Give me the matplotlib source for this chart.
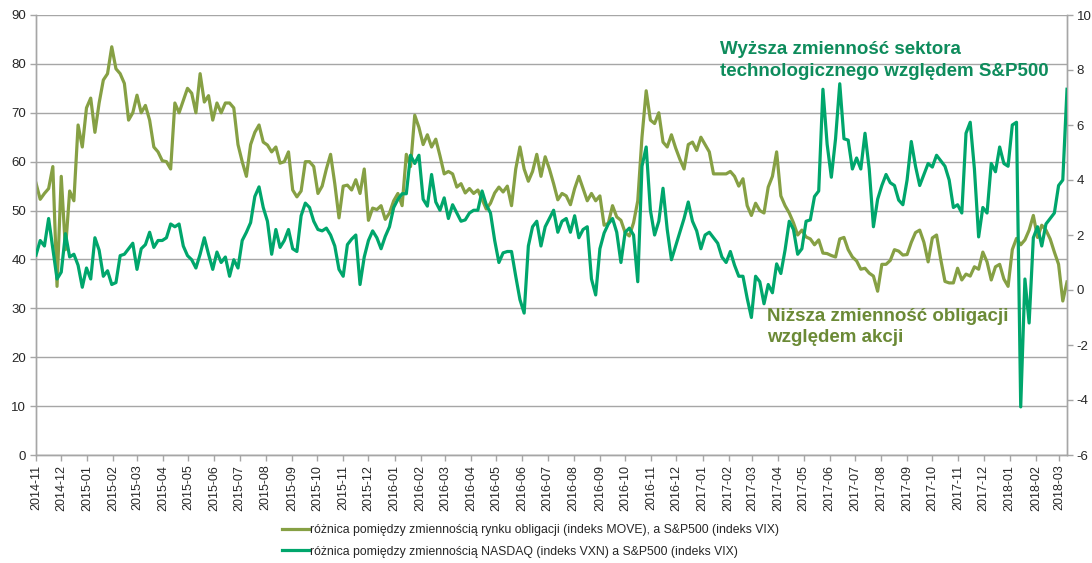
import matplotlib
matplotlib.use("Agg")
import matplotlib.pyplot as plt
import matplotlib.dates as mdates
import pandas as pd

plt.rcParams['font.family'] = ['Liberation Sans', 'DejaVu Sans']
plt.rcParams['axes.unicode_minus'] = False

# ---- data (5-day sampling, starting 2014-11-01) ----
start_date = "2014-11-01"
step = "5D"

move_vix = [
    55.6, 52.3, 53.5, 54.5, 59.0, 34.5, 57.0, 42.0, 54.0, 52.0,
    67.5, 63.0, 71.0, 73.0, 66.0, 72.0, 76.7, 78.0, 83.5, 79.0,
    78.0, 76.0, 68.5, 70.0, 73.6, 70.0, 71.5, 68.5, 63.0, 62.0,
    60.2, 60.0, 58.5, 72.0, 70.0, 72.5, 75.0, 74.0, 70.0, 78.0,
    72.2, 73.5, 68.5, 72.0, 70.0, 72.0, 72.0, 71.0, 63.5, 60.0,
    57.0, 63.5, 66.0, 67.5, 64.0, 63.4, 62.0, 63.0, 59.7, 60.0,
    62.0, 54.2, 52.8, 54.0, 60.0, 60.0, 59.0, 53.5, 55.0, 58.5,
    61.5, 55.5, 48.5, 55.0, 55.2, 54.2, 56.3, 53.5, 58.5, 48.0,
    50.5, 50.2, 51.0, 48.2, 49.5, 52.0, 53.5, 51.0, 61.5, 59.0,
    69.5, 67.0, 63.5, 65.5, 63.0, 64.6, 61.2, 57.5, 58.0, 57.5,
    54.8, 55.5, 53.6, 54.5, 53.5, 54.2, 52.3, 50.3, 51.5, 53.6,
    54.8, 53.8, 55.0, 51.0, 58.5, 63.0, 58.5, 56.0, 58.0, 61.5,
    57.0, 61.0, 58.5, 55.5, 52.2, 53.5, 53.0, 51.2, 54.5, 57.0,
    54.5, 52.0, 53.5, 52.0, 53.0, 47.0, 47.4, 51.0, 48.7, 48.0,
    45.5, 44.8, 47.5, 52.0, 65.0, 74.5, 68.5, 67.8, 70.0, 64.0,
    63.0, 65.5, 62.8, 60.5, 58.5, 63.5, 64.0, 62.3, 65.0, 63.5,
    62.0, 57.5, 57.5, 57.5, 57.5, 58.0, 57.0, 55.0, 56.5, 51.0,
    49.0, 51.5, 50.0, 49.5, 54.8, 57.0, 62.0, 53.0, 51.0, 49.5,
    47.5, 45.0, 46.0, 44.6, 44.2, 43.0, 44.0, 41.3, 41.2, 40.8,
    40.5, 44.2, 44.5, 42.0, 40.5, 39.7, 38.0, 38.2, 37.2, 36.6,
    33.5, 39.0, 39.0, 39.8, 42.0, 41.7, 40.9, 41.0, 43.5, 45.5,
    46.0, 43.5, 39.5, 44.4, 45.0, 40.0, 35.5, 35.2, 35.2, 38.2,
    35.8, 37.0, 36.6, 38.5, 38.0, 41.5, 39.5, 35.8, 38.5, 39.0,
    36.0, 34.5, 42.0, 44.3, 43.0, 44.0, 46.0, 49.0, 44.5, 47.0,
    46.0, 44.2, 41.5, 39.0, 31.5, 35.4,
]

vxn_vix = [
    1.27, 1.80, 1.60, 2.60, 1.50, 0.40, 0.65, 2.05, 1.20, 1.30,
    0.90, 0.10, 0.80, 0.40, 1.90, 1.45, 0.50, 0.70, 0.20, 0.27,
    1.25, 1.30, 1.50, 1.70, 0.75, 1.50, 1.65, 2.10, 1.55, 1.80,
    1.80, 1.90, 2.40, 2.30, 2.40, 1.60, 1.25, 1.10, 0.80, 1.30,
    1.90, 1.30, 0.75, 1.38, 1.00, 1.20, 0.50, 1.10, 0.80, 1.80,
    2.10, 2.45, 3.40, 3.75, 3.00, 2.50, 1.30, 2.20, 1.55, 1.80,
    2.20, 1.50, 1.40, 2.70, 3.16, 3.00, 2.50, 2.20, 2.15, 2.25,
    2.00, 1.60, 0.75, 0.50, 1.65, 1.85, 2.00, 0.20, 1.20, 1.80,
    2.15, 1.90, 1.50, 1.95, 2.30, 3.00, 3.30, 3.50, 3.50, 4.90,
    4.60, 4.90, 3.30, 3.05, 4.20, 3.20, 2.90, 3.35, 2.60, 3.10,
    2.80, 2.50, 2.55, 2.80, 2.90, 2.90, 3.60, 3.10, 2.80, 1.80,
    1.00, 1.35, 1.40, 1.40, 0.50, -0.35, -0.84, 1.60, 2.30, 2.50,
    1.60, 2.30, 2.60, 2.90, 2.10, 2.50, 2.60, 2.10, 2.70, 1.90,
    2.20, 2.30, 0.40, -0.18, 1.50, 2.07, 2.40, 2.60, 2.10, 1.00,
    2.10, 2.25, 2.00, 0.30, 4.50, 5.20, 2.90, 2.00, 2.50, 3.70,
    2.20, 1.10, 1.60, 2.10, 2.60, 3.20, 2.50, 2.15, 1.50, 2.00,
    2.10, 1.90, 1.70, 1.20, 1.00, 1.40, 0.90, 0.50, 0.50, -0.30,
    -1.00, 0.50, 0.30, -0.50, 0.20, -0.10, 0.95, 0.60, 1.45, 2.50,
    2.20, 1.30, 1.50, 2.50, 2.55, 3.40, 3.60, 7.30, 5.30, 4.10,
    5.50, 7.50, 5.50, 5.45, 4.40, 4.80, 4.40, 5.70, 4.40, 2.30,
    3.30, 3.80, 4.20, 3.90, 3.80, 3.27, 3.10, 4.00, 5.40, 4.50,
    3.80, 4.20, 4.60, 4.47, 4.90, 4.70, 4.50, 4.00, 3.00, 3.10,
    2.80, 5.70, 6.10, 4.40, 1.93, 3.00, 2.80, 4.60, 4.30, 5.20,
    4.60, 4.50, 6.00, 6.10, -4.25, 0.40, -1.20, 1.90, 2.30, 1.60,
    2.40, 2.60, 2.80, 3.80, 4.00, 7.30,
]

label_move = "różnica pomiędzy zmiennością rynku obligacji (indeks MOVE), a S&P500 (indeks VIX)"
label_vxn = "różnica pomiędzy zmiennością NASDAQ (indeks VXN) a S&P500 (indeks VIX)"
note_high = "Wyższa zmienność sektora\ntechnologicznego względem S&P500"
note_low = "Niższa zmienność obligacji\nwzględem akcji"

dates = pd.date_range(start_date, periods=len(move_vix), freq=step)

c_move = "#86A044"
c_vxn = "#00A66C"
grid_c = "#A6A6A6"
txt_c = "#262626"

fig = plt.figure(figsize=(10.92, 5.63), dpi=100)
ax = fig.add_axes([36/1092, 1-455/563, (1067-36)/1092, 440/563])
ax2 = ax.twinx()

ax.plot(dates, move_vix, color=c_move, lw=2.3, solid_joinstyle='round', zorder=3)
ax2.plot(dates, vxn_vix, color=c_vxn, lw=2.3, solid_joinstyle='round', zorder=3)

ax.set_ylim(0, 90)
ax.set_yticks(range(0, 91, 10))
ax2.set_ylim(-6, 10)
ax2.set_yticks(range(-6, 11, 2))
ax.set_xlim(dates[0], dates[-1])

ax.xaxis.set_major_locator(mdates.MonthLocator())
ax.xaxis.set_major_formatter(mdates.DateFormatter('%Y-%m'))
for lbl in ax.get_xticklabels():
    lbl.set_rotation(90)

ax.grid(axis='y', color=grid_c, lw=1.0)
ax.set_axisbelow(True)
for a in (ax, ax2):
    a.spines['top'].set_visible(False)
    for s in ('left', 'right', 'bottom'):
        a.spines[s].set_color(grid_c)
        a.spines[s].set_linewidth(1.0)
    a.tick_params(colors=grid_c, labelcolor=txt_c, labelsize=9.5, length=4, width=1)
ax.tick_params(axis='y', pad=3)
ax2.tick_params(axis='y', pad=3)
ax.tick_params(axis='x', pad=3, labelsize=9)

ax2.text(0.663, 0.94, note_high, transform=ax.transAxes, color="#0E8C5C",
         fontsize=13.5, fontweight='bold', va='top', ha='left', linespacing=1.35)
ax2.text(0.709, 0.335, note_low, transform=ax.transAxes, color="#6B8A36",
         fontsize=13.5, fontweight='bold', va='top', ha='left', linespacing=1.35)

h1, = ax.plot([], [], color=c_move, lw=2.3)
h2, = ax.plot([], [], color=c_vxn, lw=2.3)
leg = fig.legend([h1, h2], [label_move, label_vxn], loc='center left',
                 bbox_to_anchor=(282/1092, 1-541/563), frameon=False, fontsize=8.85,
                 handlelength=2.2, handletextpad=0.1, labelspacing=0.75,
                 borderaxespad=0, borderpad=0)
for t in leg.get_texts():
    t.set_color(txt_c)

fig.savefig("out.png", dpi=100)
